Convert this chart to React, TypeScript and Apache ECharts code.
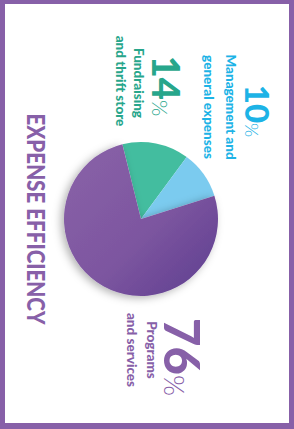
import React, { useEffect, useRef } from "react";
import * as echarts from "echarts";

const categories = ["Fundraising and thrift store", "Management and general expenses", "Programs and services"];
const values = [14, 10, 76];
const percentLabels = ["14", "10", "76"];
const title = "EXPENSE EFFICIENCY";

const PURPLE = "#8760a8";
const CYAN = "#1db3e6";
const TEAL = "#27a68b";

export default function App() {
  const ref = useRef<HTMLDivElement>(null);
  useEffect(() => {
    document.body.style.margin = "0";
    const chart = echarts.init(ref.current!, undefined, { renderer: "svg" });
    const rot = -Math.PI / 2;
    const font = "Lato";
    const mkText = (x: number, y: number, text: string, size: number, color: string, extra: any = {}) => ({
      type: "text",
      x,
      y,
      rotation: rot,
      ...extra,
      style: {
        text,
        fill: color,
        font: `900 ${size}px ${font}`,
        align: "center",
        verticalAlign: "middle",
      },
    });
    const mkPct = (x: number, y: number, num: string, size: number, color: string) => ({
      type: "text",
      x,
      y,
      rotation: rot,
      style: {
        text: `{a|${num}}{b|%}`,
        align: "center",
        verticalAlign: "middle",
        rich: {
          a: { fontSize: size, fontWeight: 900, fill: color, fontFamily: font, verticalAlign: "bottom" },
          b: { fontSize: size * 0.55, fontWeight: 300, fill: color, fontFamily: font, verticalAlign: "bottom", padding: [0, 0, size * 0.06, 0] },
        },
      },
    });
    chart.setOption({
      animation: false,
      graphic: [
        { type: "rect", shape: { x: 0, y: 0, width: 294, height: 429 }, style: { fill: PURPLE }, z: -10 },
        { type: "rect", shape: { x: 5, y: 4, width: 284, height: 419 }, style: { fill: "#ffffff" }, z: -9 },
        mkText(36, 219, title, 24, PURPLE, { scaleX: 0.86 }),
        mkPct(258, 111, percentLabels[1], 33, CYAN),
        mkText(231, 107, "Management and", 13.5, CYAN),
        mkText(209, 107, "general expenses", 13.5, CYAN),
        mkPct(167, 86, percentLabels[0], 38, TEAL),
        mkText(139, 83, "Fundraising", 13.5, TEAL),
        mkText(121, 81, "and thrift store", 13.5, TEAL),
        mkPct(183, 357, percentLabels[2], 49, PURPLE),
        mkText(152, 350, "Programs", 13.5, PURPLE),
        mkText(132, 350, "and services", 13.5, PURPLE),
      ],
      series: [
        {
          type: "pie",
          center: [141, 219],
          radius: [0, 77],
          startAngle: 104,
          clockwise: true,
          label: { show: false },
          labelLine: { show: false },
          silent: true,
          data: categories.map((name, i) => ({
            name,
            value: values[i],
            itemStyle:
              i === 0
                ? { color: "#43bd9f" }
                : i === 1
                ? { color: "#7bcbef" }
                : {
                    color: new echarts.graphic.LinearGradient(0, 0, 1, 1, [
                      { offset: 0, color: "#8a62a8" },
                      { offset: 0.55, color: "#7d56a0" },
                      { offset: 1, color: "#5d3d8f" },
                    ]),
                    shadowBlur: 8,
                    shadowOffsetX: -3,
                    shadowOffsetY: 2,
                    shadowColor: "rgba(0,0,0,0.3)",
                  },
          })),
        },
      ],
    });
    return () => chart.dispose();
  }, []);
  return <div ref={ref} style={{ width: 294, height: 429 }} />;
}
